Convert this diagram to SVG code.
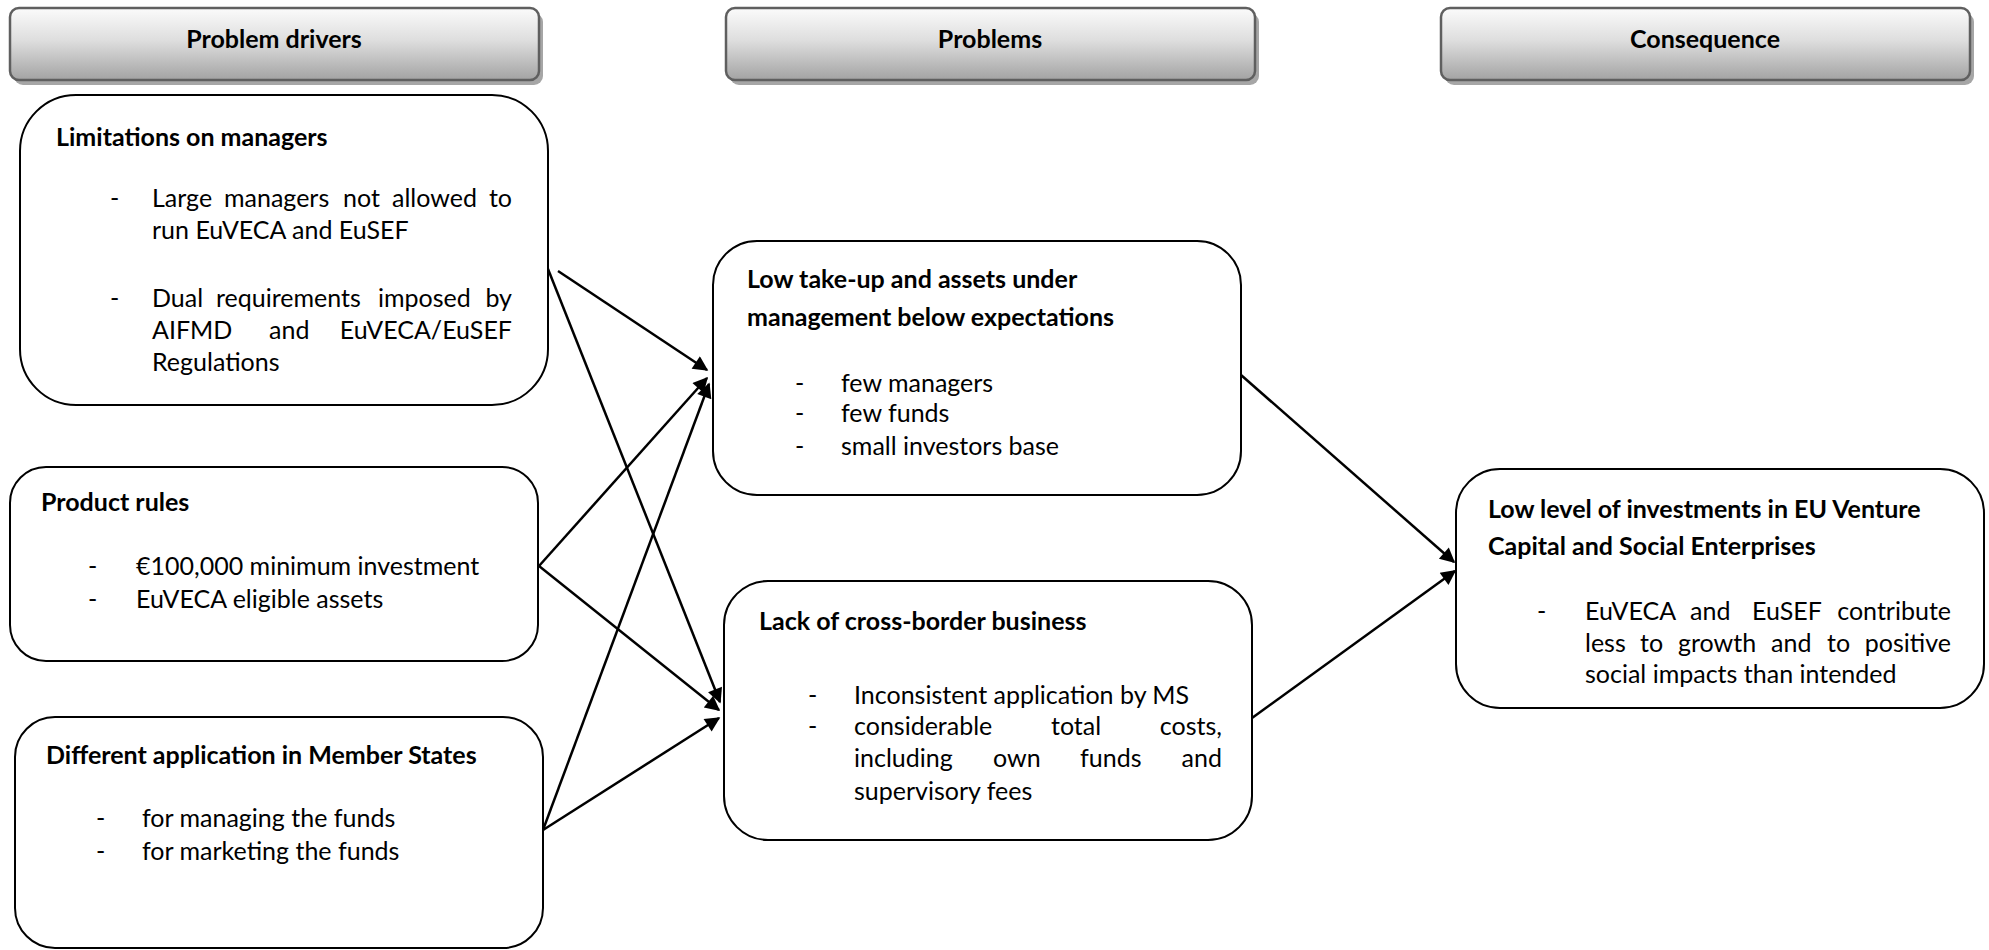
<svg xmlns="http://www.w3.org/2000/svg" width="1989" height="950" viewBox="0 0 1989 950">
  <defs>
    <linearGradient id="hdrFill" x1="0" y1="0" x2="0" y2="1">
      <stop offset="0" stop-color="#fbfbfb"/>
      <stop offset="0.45" stop-color="#dedede"/>
      <stop offset="1" stop-color="#a3a3a3"/>
    </linearGradient>
    <marker id="arrow" viewBox="0 0 10 10" refX="9" refY="5" markerWidth="7" markerHeight="6" markerUnits="strokeWidth" orient="auto">
      <path d="M0,0 L10,5 L0,10 z" fill="#000"/>
    </marker>
    <style>
      text { font-family: Lato, "Liberation Sans", sans-serif; font-size: 25px; fill: #000; }
      .b { font-weight: bold; }
      .m { text-anchor: middle; }
      .e { text-anchor: end; }
      .hdr-shadow { fill: #a6a6a6; }
      .hdr { fill: url(#hdrFill); stroke: #5f5f5f; stroke-width: 2.5; }
      .box { fill: #fff; stroke: #000; stroke-width: 2; }
      .link { fill: none; stroke: #000; stroke-width: 2.5; marker-end: url(#arrow); }
    </style>
  </defs>

  <rect width="1989" height="950" fill="#fff"/>

  <!-- column headers -->
  <g id="hdr-drivers">
    <rect class="hdr-shadow" x="14" y="13" width="529" height="72" rx="9"/>
    <rect class="hdr" x="10" y="8" width="529" height="72" rx="9"/>
    <text class="b m" x="274" y="48">Problem drivers</text>
  </g>
  <g id="hdr-problems">
    <rect class="hdr-shadow" x="730" y="13" width="529" height="72" rx="9"/>
    <rect class="hdr" x="726" y="8" width="529" height="72" rx="9"/>
    <text class="b m" x="990" y="48">Problems</text>
  </g>
  <g id="hdr-consequence">
    <rect class="hdr-shadow" x="1445" y="13" width="529" height="72" rx="9"/>
    <rect class="hdr" x="1441" y="8" width="529" height="72" rx="9"/>
    <text class="b m" x="1705" y="48">Consequence</text>
  </g>

  <!-- connectors -->
  <g id="connectors">
    <line class="link" x1="558" y1="271" x2="707" y2="370"/>
    <line class="link" x1="548" y1="269" x2="720" y2="702"/>
    <line class="link" x1="539" y1="566" x2="707" y2="378"/>
    <line class="link" x1="539" y1="566" x2="719" y2="710"/>
    <line class="link" x1="543" y1="830" x2="709" y2="384"/>
    <line class="link" x1="543" y1="830" x2="719" y2="718"/>
    <line class="link" x1="1241" y1="375" x2="1454" y2="562"/>
    <line class="link" x1="1252" y1="718" x2="1455" y2="571"/>
  </g>

  <!-- problem drivers -->
  <g id="limitations">
    <rect class="box" x="20" y="95" width="528" height="310" rx="56"/>
    <text class="b" x="56" y="146">Limitations on managers</text>
    <text x="110" y="207">-</text>
    <text y="207"><tspan x="152">Large</tspan><tspan x="224">managers</tspan><tspan x="343">not</tspan><tspan x="392">allowed</tspan><tspan class="e" x="512">to</tspan></text>
    <text x="152" y="239">run EuVECA and EuSEF</text>
    <text x="110" y="307">-</text>
    <text y="307"><tspan x="152">Dual</tspan><tspan x="216">requirements</tspan><tspan x="378">imposed</tspan><tspan class="e" x="512">by</tspan></text>
    <text y="339"><tspan x="152">AIFMD</tspan><tspan x="269">and</tspan><tspan class="e" x="512">EuVECA/EuSEF</tspan></text>
    <text x="152" y="371">Regulations</text>
  </g>

  <g id="product-rules">
    <rect class="box" x="10" y="467" width="528" height="194" rx="36"/>
    <text class="b" x="41" y="511">Product rules</text>
    <text x="88" y="575">-</text>
    <text x="136" y="575">€100,000 minimum investment</text>
    <text x="88" y="608">-</text>
    <text x="136" y="608">EuVECA eligible assets</text>
  </g>

  <g id="member-states">
    <rect class="box" x="15" y="717" width="528" height="231" rx="40"/>
    <text class="b" x="46" y="764">Different application in Member States</text>
    <text x="96" y="827">-</text>
    <text x="142" y="827">for managing the funds</text>
    <text x="96" y="860">-</text>
    <text x="142" y="860">for marketing the funds</text>
  </g>

  <!-- problems -->
  <g id="low-take-up">
    <rect class="box" x="713" y="241" width="528" height="254" rx="44"/>
    <text class="b" x="747" y="288">Low take-up and assets under</text>
    <text class="b" x="747" y="326">management below expectations</text>
    <text x="795" y="392">-</text>
    <text x="841" y="392">few managers</text>
    <text x="795" y="422">-</text>
    <text x="841" y="422">few funds</text>
    <text x="795" y="455">-</text>
    <text x="841" y="455">small investors base</text>
  </g>

  <g id="cross-border">
    <rect class="box" x="724" y="581" width="528" height="259" rx="44"/>
    <text class="b" x="759" y="630">Lack of cross-border business</text>
    <text x="808" y="704">-</text>
    <text x="854" y="704">Inconsistent application by MS</text>
    <text x="808" y="735">-</text>
    <text y="735"><tspan x="854">considerable</tspan><tspan x="1051">total</tspan><tspan class="e" x="1222">costs,</tspan></text>
    <text y="767"><tspan x="854">including</tspan><tspan x="993">own</tspan><tspan x="1080">funds</tspan><tspan class="e" x="1222">and</tspan></text>
    <text x="854" y="800">supervisory fees</text>
  </g>

  <!-- consequence -->
  <g id="consequence">
    <rect class="box" x="1456" y="469" width="528" height="239" rx="44"/>
    <text class="b" x="1488" y="518">Low level of investments in EU Venture</text>
    <text class="b" x="1488" y="555">Capital and Social Enterprises</text>
    <text x="1537" y="620">-</text>
    <text y="620"><tspan x="1585">EuVECA</tspan><tspan x="1690">and</tspan><tspan x="1752">EuSEF</tspan><tspan class="e" x="1951">contribute</tspan></text>
    <text y="652"><tspan x="1585">less</tspan><tspan x="1640">to</tspan><tspan x="1678">growth</tspan><tspan x="1771">and</tspan><tspan x="1827">to</tspan><tspan class="e" x="1951">positive</tspan></text>
    <text x="1585" y="683">social impacts than intended</text>
  </g>
</svg>
